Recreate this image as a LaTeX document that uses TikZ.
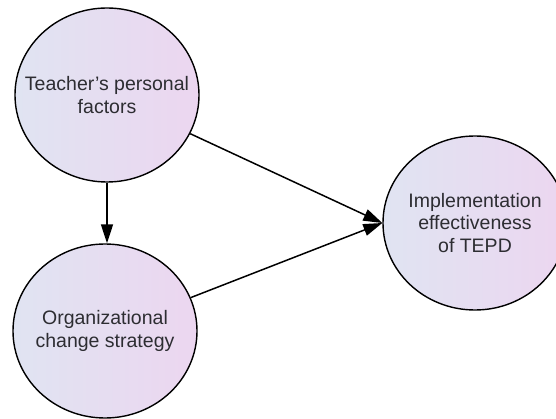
\documentclass[tikz,border=0pt]{standalone}
\usepackage{fontspec}
\setmainfont{Liberation Sans}
\usetikzlibrary{arrows.meta,shapes.geometric}
\definecolor{fillL}{RGB}{224,228,242}
\definecolor{fillR}{RGB}{236,214,240}
\definecolor{txt}{RGB}{45,45,50}
\tikzset{
  factor/.style={ellipse, draw=black, line width=1.4pt, minimum width=184pt, minimum height=174pt,
    inner sep=0pt, left color=fillL, right color=fillR},
  factortext/.style={text=txt, align=center, font=\fontsize{19.5}{22.5}\selectfont, inner sep=0pt},
  arr/.style={line width=1.5pt, -{Triangle[length=19pt,width=12pt]}}
}
\begin{document}
\begin{tikzpicture}[x=1pt,y=-1pt]
\useasboundingbox (0,0) rectangle (556,419);
\node[factor, label={[factortext]center:Teacher’s personal\\factors}] (c1) at (107,95) {};
\node[factor, label={[factortext]center:Organizational\\change strategy}] (c2) at (105,331) {};
\node[factor, label={[factortext]center:Implementation\\effectiveness\\of TEPD}] (c3) at (475,223) {};
\draw[arr] (c1.south) -- (c1.south |- c2.north);
\draw[arr] (c1) -- (c3.west);
\draw[arr] (c2) -- (c3.west);
\end{tikzpicture}
\end{document}
